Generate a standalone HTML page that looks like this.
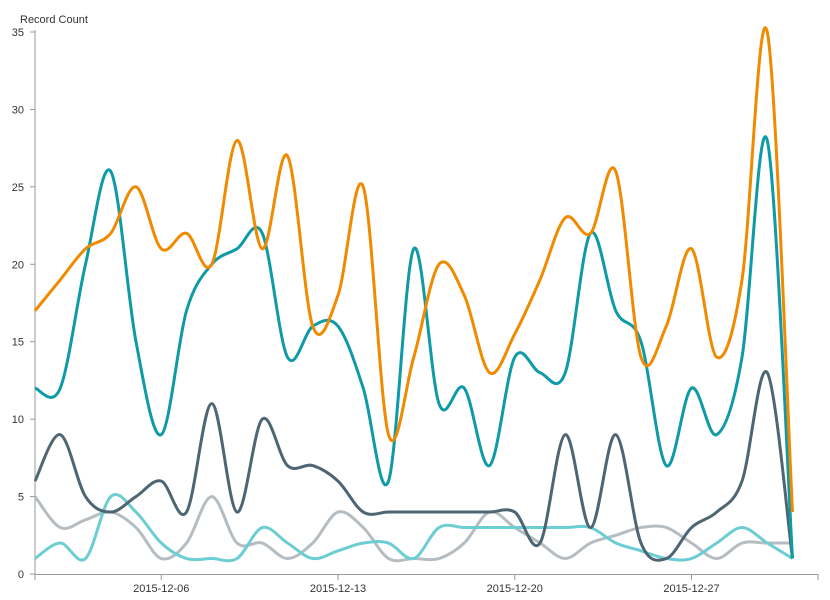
<!DOCTYPE html>
<html><head><meta charset="utf-8"><style>
html,body{margin:0;padding:0;background:#fff;}
svg{display:block;font-family:"Liberation Sans",sans-serif;}
</style></head><body>
<svg id="c" width="830" height="600" viewBox="0 0 830 600">
<text x="20" y="23" font-size="11" fill="#333">Record Count</text>
<g id="ax"></g><g id="ln"></g>
</svg>
<script>
const ns="http://www.w3.org/2000/svg";
const y0=574, py=(574-32)/35, x0=35, px=25.25;
const X=d=>x0+(d-1)*px, Y=v=>y0-v*py;
const ax=document.getElementById('ax');
function el(t,a,p,txt){const e=document.createElementNS(ns,t);for(const k in a)e.setAttribute(k,a[k]);if(txt!==undefined)e.textContent=txt;p.appendChild(e);return e;}
el('line',{x1:35,y1:30,x2:35,y2:574,stroke:'#999','stroke-width':1},ax);
el('line',{x1:35,y1:574.5,x2:818,y2:574.5,stroke:'#999','stroke-width':1},ax);
for(let v=0;v<=35;v+=5){const y=Y(v);el('line',{x1:30,y1:y,x2:35,y2:y,stroke:'#999'},ax);el('text',{x:24,y:y+4,'font-size':11,'text-anchor':'end',fill:'#333'},ax,v);}
[[6,'2015-12-06'],[13,'2015-12-13'],[20,'2015-12-20'],[27,'2015-12-27']].forEach(([d,l])=>{const x=X(d);el('line',{x1:x,y1:574,x2:x,y2:580,stroke:'#999'},ax);el('text',{x:x,y:592,'font-size':11,'text-anchor':'middle',fill:'#333'},ax,l);});
el('line',{x1:35,y1:574,x2:35,y2:580,stroke:'#999'},ax);el('line',{x1:818,y1:574,x2:818,y2:580,stroke:'#999'},ax);
const S=[
['#b5bdc3',[5,3,3.5,4,3,1,2,5,2,2,1,2,4,3,1,1,1,2,4,3,2,1,2,2.5,3,3,2,1,2,2,2]],
['#6ccdd3',[1,2,1,5,4,2,1,1,1,3,2,1,1.5,2,2,1,3,3,3,3,3,3,3,2,1.5,1,1,2,3,2,1]],
['#4e6573',[6,9,5,4,5,6,4,11,4,10,7,7,6,4,4,4,4,4,4,4,2,9,3,9,2,1,3,4,6,13,1]],
['#0e9aa7',[12,12,20,26,15,9,17,20,21,22,14,16,16,12,6,21,11,12,7,14,13,13,22,17,15,7,12,9,14,28,1]],
['#f08a00',[17,19,21,22,25,21,22,20,28,21,27,16,18,25,9,14,20,18,13,15.5,19,23,22,26,14,16,21,14,19,35,4]]
];
const ln=document.getElementById('ln');
S.forEach(([c,d])=>{const p=d.map((v,i)=>[X(i+1),Y(v)]);let s=`M${p[0][0]},${p[0][1]}`;
for(let i=0;i<p.length-1;i++){const a=p[Math.max(0,i-1)],b=p[i],q=p[i+1],r=p[Math.min(p.length-1,i+2)];
const c1=[b[0]+(q[0]-a[0])/6,b[1]+(q[1]-a[1])/6],c2=[q[0]-(r[0]-b[0])/6,q[1]-(r[1]-b[1])/6];
s+=`C${c1[0]},${c1[1]} ${c2[0]},${c2[1]} ${q[0]},${q[1]}`;}
el('path',{d:s,fill:'none',stroke:c,'stroke-width':3},ln);});
</script>
</body></html>
